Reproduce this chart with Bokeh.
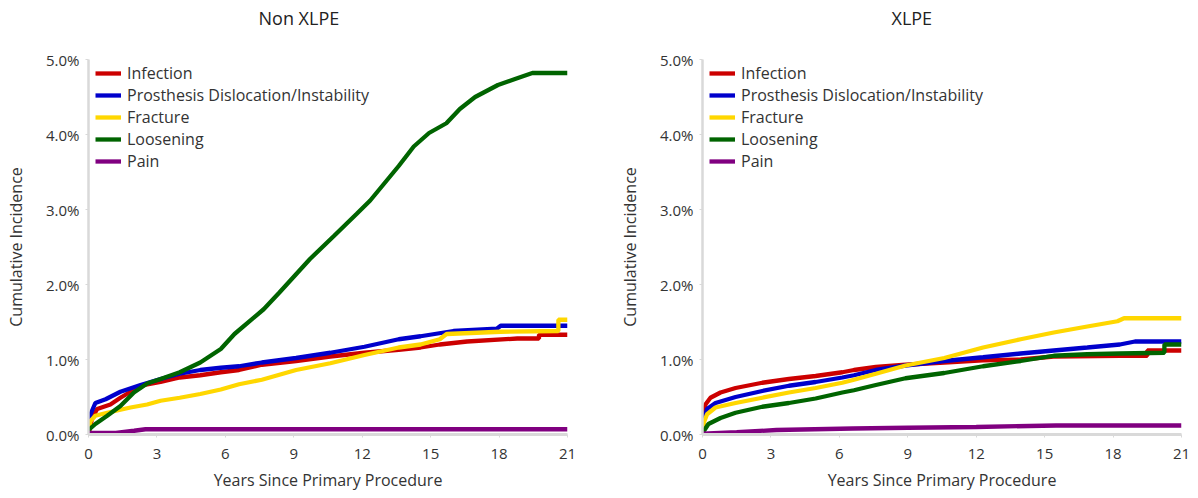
from bokeh.plotting import figure
from bokeh.layouts import row
from bokeh.models import (FixedTicker, PrintfTickFormatter, Legend, LegendItem, Range1d, Title)
from bokeh.embed import file_html
from bokeh.resources import INLINE

# ---------------- data (cumulative incidence, %) ----------------
series_names = ["Infection", "Prosthesis Dislocation/Instability", "Fracture", "Loosening", "Pain"]
series_colors = ["#cc0000", "#0000cc", "#ffd700", "#006400", "#800080"]
x_ticks = [0, 3, 6, 9, 12, 15, 18, 21]
y_ticks = [0, 1, 2, 3, 4, 5]

# Non XLPE
nx_infection_x = [0, 0.16, 0.38, 0.96, 1.4, 2.28, 3.16, 4.0, 4.9, 5.8, 6.6, 7.6, 9.1, 10.6, 12.1, 13.6, 14.56, 15.4, 16.6, 18.8, 19.75, 19.75, 21]
nx_infection_y = [0, 0.22, 0.34, 0.40, 0.49, 0.65, 0.70, 0.76, 0.79, 0.83, 0.86, 0.93, 0.98, 1.04, 1.09, 1.13, 1.16, 1.20, 1.24, 1.28, 1.28, 1.33, 1.33]
nx_disloc_x = [0, 0.09, 0.3, 0.75, 1.4, 2.28, 3.16, 4.0, 4.9, 5.8, 6.6, 7.6, 9.1, 10.6, 12.1, 13.6, 14.56, 16.0, 17.9, 18.07, 21]
nx_disloc_y = [0, 0.27, 0.42, 0.47, 0.57, 0.66, 0.74, 0.81, 0.86, 0.89, 0.91, 0.96, 1.02, 1.09, 1.17, 1.27, 1.31, 1.38, 1.41, 1.45, 1.45]
nx_fracture_x = [0, 0.09, 0.3, 0.82, 1.84, 2.57, 3.16, 4.0, 4.9, 5.8, 6.6, 7.6, 9.1, 10.6, 12.1, 13.6, 14.56, 15.4, 15.7, 18.07, 20.6, 20.6, 21]
nx_fracture_y = [0, 0.18, 0.25, 0.29, 0.36, 0.40, 0.45, 0.49, 0.54, 0.60, 0.67, 0.73, 0.86, 0.95, 1.06, 1.16, 1.20, 1.27, 1.34, 1.37, 1.38, 1.53, 1.53]
nx_loosening_x = [0, 0.04, 0.3, 0.82, 1.4, 1.99, 2.57, 3.16, 4.0, 4.9, 5.8, 6.4, 7.68, 8.36, 9.71, 10.77, 11.75, 12.35, 13.6, 14.26, 14.93, 15.69, 16.28, 16.95, 17.95, 18.7, 19.46, 21]
nx_loosening_y = [0.03, 0.07, 0.14, 0.25, 0.38, 0.56, 0.68, 0.74, 0.83, 0.96, 1.14, 1.34, 1.67, 1.89, 2.34, 2.65, 2.94, 3.12, 3.58, 3.84, 4.02, 4.15, 4.34, 4.50, 4.66, 4.74, 4.82, 4.82]
nx_pain_x = [0, 1.2, 2.0, 2.5, 21]
nx_pain_y = [0.02, 0.02, 0.05, 0.07, 0.07]

# XLPE
x_infection_x = [0, 0.06, 0.13, 0.35, 0.79, 1.45, 2.62, 3.79, 4.96, 6.13, 6.64, 7.6, 8.9, 10.6, 12.3, 13.95, 15.4, 18.3, 19.5, 19.5, 21]
x_infection_y = [0.02, 0.27, 0.40, 0.49, 0.56, 0.62, 0.69, 0.74, 0.78, 0.83, 0.86, 0.90, 0.93, 0.96, 0.99, 1.00, 1.04, 1.05, 1.05, 1.12, 1.12]
x_disloc_x = [0, 0.06, 0.2, 0.57, 1.45, 2.62, 3.79, 4.96, 6.13, 6.64, 7.6, 8.9, 10.6, 12.3, 13.95, 15.4, 16.87, 18.3, 18.96, 21]
x_disloc_y = [0.02, 0.20, 0.34, 0.42, 0.50, 0.58, 0.65, 0.70, 0.76, 0.79, 0.86, 0.92, 0.98, 1.03, 1.08, 1.12, 1.16, 1.20, 1.24, 1.24]
x_fracture_x = [0, 0.06, 0.2, 0.57, 1.45, 2.62, 3.79, 4.96, 6.13, 6.64, 7.6, 8.9, 10.6, 12.3, 13.95, 15.4, 16.87, 18.19, 18.48, 21]
x_fracture_y = [0.02, 0.16, 0.27, 0.36, 0.42, 0.49, 0.56, 0.62, 0.69, 0.73, 0.81, 0.92, 1.02, 1.16, 1.27, 1.36, 1.44, 1.51, 1.55, 1.55]
x_loosening_x = [0, 0.26, 0.79, 1.45, 2.62, 3.79, 4.96, 6.13, 6.64, 7.6, 8.9, 10.6, 12.3, 13.95, 15.4, 16.87, 18.3, 20.25, 20.25, 21]
x_loosening_y = [0.02, 0.14, 0.22, 0.29, 0.37, 0.42, 0.48, 0.56, 0.59, 0.66, 0.75, 0.82, 0.91, 0.98, 1.05, 1.07, 1.08, 1.09, 1.20, 1.20]
x_pain_x = [0, 1.5, 3.24, 6.6, 9.0, 12.0, 15.5, 21]
x_pain_y = [0.01, 0.03, 0.06, 0.08, 0.09, 0.10, 0.12, 0.12]

non_xlpe = [(nx_infection_x, nx_infection_y), (nx_disloc_x, nx_disloc_y),
            (nx_fracture_x, nx_fracture_y), (nx_loosening_x, nx_loosening_y),
            (nx_pain_x, nx_pain_y)]
xlpe = [(x_infection_x, x_infection_y), (x_disloc_x, x_disloc_y),
        (x_fracture_x, x_fracture_y), (x_loosening_x, x_loosening_y),
        (x_pain_x, x_pain_y)]

FONT = "Open Sans"
TXT = "#333333"
AXC = "#d9d9d9"


def make_panel(title, data, width, b_left, b_right, title_offset):
    p = figure(width=width, height=496, x_range=Range1d(0, 21), y_range=Range1d(0, 5.0),
               output_backend="svg", toolbar_location=None,
               min_border_left=b_left, min_border_right=b_right,
               min_border_top=59, min_border_bottom=62)
    p.outline_line_color = None
    p.xgrid.visible = False
    p.ygrid.visible = False
    p.background_fill_color = "white"
    p.border_fill_color = "white"

    # blank spacer between the frame and the title
    p.add_layout(Title(text=" ", text_font_size="1px", standoff=20), "above")

    p.title.text = title
    p.title.align = "left"
    p.title.offset = title_offset
    p.title.vertical_align = "top"
    p.title.standoff = 10
    p.title.text_font = FONT
    p.title.text_font_size = "18px"
    p.title.text_font_style = "normal"
    p.title.text_color = "#222222"

    items = []
    for name, color, (xs, ys) in zip(series_names, series_colors, data):
        r = p.line(xs, ys, line_color=color, line_width=4.3)
        items.append(LegendItem(label=name, renderers=[r]))

    legend = Legend(items=items, location=(7, 262), margin=0, padding=0,
                    spacing=0, glyph_height=8, glyph_width=26, label_height=16,
                    label_standoff=6, label_text_font_size="16px",
                    label_text_font=FONT, label_text_color=TXT,
                    background_fill_alpha=0, border_line_alpha=0)
    p.add_layout(legend)

    xa = p.xaxis[0]
    xa.ticker = FixedTicker(ticks=x_ticks)
    xa.axis_line_color = AXC
    xa.axis_line_width = 3
    xa.major_tick_line_color = AXC
    xa.major_tick_out = 3
    xa.major_tick_in = 0
    xa.minor_tick_line_color = None
    xa.major_label_standoff = 11
    xa.major_label_text_font = FONT
    xa.major_label_text_font_size = "15px"
    xa.major_label_text_color = TXT
    xa.axis_label = "Years Since Primary Procedure"
    xa.axis_label_text_font = FONT
    xa.axis_label_text_font_size = "16px"
    xa.axis_label_text_font_style = "normal"
    xa.axis_label_text_color = TXT
    xa.axis_label_standoff = 7

    ya = p.yaxis[0]
    ya.ticker = FixedTicker(ticks=y_ticks)
    ya.formatter = PrintfTickFormatter(format="%.1f%%")
    ya.axis_line_color = AXC
    ya.axis_line_width = 2.5
    ya.major_tick_line_color = AXC
    ya.major_tick_out = 3
    ya.major_tick_in = 0
    ya.minor_tick_line_color = None
    ya.major_label_standoff = 6
    ya.major_label_text_font = FONT
    ya.major_label_text_font_size = "15px"
    ya.major_label_text_color = TXT
    ya.axis_label = "Cumulative Incidence"
    ya.axis_label_text_font = FONT
    ya.axis_label_text_font_size = "16px"
    ya.axis_label_text_font_style = "normal"
    ya.axis_label_text_color = TXT
    ya.axis_label_standoff = 16
    return p


p1 = make_panel("Non XLPE", non_xlpe, 602, 88, 35, 170)
p2 = make_panel("XLPE", xlpe, 596, 100, 17, 189)
layout = row(p1, p2)

open("out.html", "w").write(file_html(layout, INLINE))
